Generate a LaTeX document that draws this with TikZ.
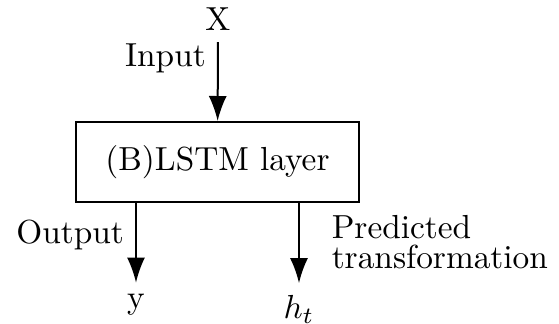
\documentclass[tikz,border=0pt]{standalone}
\usetikzlibrary{arrows.meta}
\begin{document}
\begin{tikzpicture}[x=0.3pt,y=-0.3pt,
  flow/.style={-{Latex[length=7.5pt,width=5.4pt]},line width=0.6pt},
  layer/.style={draw,line width=0.6pt,minimum width=84.9pt,minimum height=24pt}]
\useasboundingbox (0,0) rectangle (559,324);
\node[layer] (lstm) at (217.5,162) {(B)LSTM layer};
\node (x) at (218,19) {X};
\node (y) at (136,305) {y};
\node (ht) at (299,309) {$h_t$};
\node[anchor=west,align=left,font=\fontsize{10}{9.2}\selectfont] (pred) at (320,242) {Predicted\\transformation};
\draw[flow] (x) -- node[left,pos=0.2] (input) {Input} (lstm);
\draw[flow] (lstm.south -| y) -- node[left,pos=0.4] (output) {Output} (y);
\draw[flow] (lstm.south -| ht) -- (ht);
\end{tikzpicture}
\end{document}
